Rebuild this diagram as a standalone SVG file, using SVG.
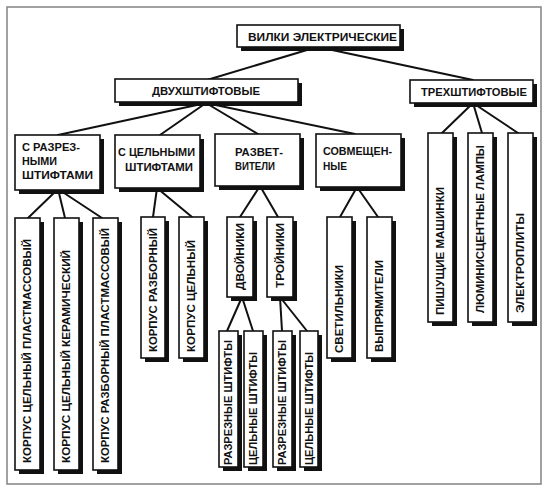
<svg xmlns="http://www.w3.org/2000/svg" width="550" height="489" viewBox="0 0 550 489">
<style>
.sh{fill:#111}
.bx{fill:#fff;stroke:#111;stroke-width:1.6}
.t{font-family:"Liberation Sans",Arial,sans-serif;font-weight:bold;font-size:11px;fill:#111}
.c{stroke:#111;stroke-width:2;fill:none;stroke-linecap:round}
</style>
<rect x="0" y="0" width="550" height="489" fill="#fff"/>
<rect x="7" y="7" width="534" height="477" fill="none" stroke="#8a8a8a" stroke-width="1.6"/>
<g id="connectors" class="c">
<path d="M317 47L207 80M318 47L473 80"/>
<path d="M206 103L58 135M206 103L160 135M206 103L258 134M206 103L355 134"/>
<path d="M473 103L442 133M473 103L482 133M473 103L518 133"/>
<path d="M58 189L28 218M58 189L65 218M58 189L102 218"/>
<path d="M157 188L153 217M157 188L192 217"/>
<path d="M260 186L240 217M260 186L278 217"/>
<path d="M357 187L340 217M357 187L378 217"/>
<path d="M242 297L227 331M242 297L253 331"/>
<path d="M280 297L282 331M280 297L307 331"/>
</g>
<g id="n-root"><rect class="sh" x="241" y="29" width="163" height="22"/><rect class="bx" x="237" y="25" width="163" height="22"/><text class="t" x="248" y="41" textLength="149" lengthAdjust="spacingAndGlyphs">ВИЛКИ ЭЛЕКТРИЧЕСКИЕ</text></g>
<g id="n-two"><rect class="sh" x="119" y="83" width="183" height="23"/><rect class="bx" x="115" y="79" width="183" height="23"/><text class="t" x="152" y="95" textLength="108" lengthAdjust="spacingAndGlyphs">ДВУХШТИФТОВЫЕ</text></g>
<g id="n-three"><rect class="sh" x="414" y="84" width="123" height="23"/><rect class="bx" x="410" y="80" width="123" height="23"/><text class="t" x="421" y="96" textLength="106" lengthAdjust="spacingAndGlyphs">ТРЕХШТИФТОВЫЕ</text></g>
<g id="n-razrez"><rect class="sh" x="19" y="139" width="85" height="55"/><rect class="bx" x="15" y="135" width="85" height="55"/><text class="t" x="22" y="151" textLength="58" lengthAdjust="spacingAndGlyphs">С РАЗРЕЗ-</text><text class="t" x="22" y="165" textLength="35" lengthAdjust="spacingAndGlyphs">НЫМИ</text><text class="t" x="22" y="179" textLength="71" lengthAdjust="spacingAndGlyphs">ШТИФТАМИ</text></g>
<g id="n-celn"><rect class="sh" x="119" y="139" width="85" height="53"/><rect class="bx" x="115" y="135" width="85" height="53"/><text class="t" x="118" y="156" textLength="77" lengthAdjust="spacingAndGlyphs">С ЦЕЛЬНЫМИ</text><text class="t" x="125" y="171" textLength="68" lengthAdjust="spacingAndGlyphs">ШТИФТАМИ</text></g>
<g id="n-razvet"><rect class="sh" x="219" y="138" width="85" height="52"/><rect class="bx" x="215" y="134" width="85" height="52"/><text class="t" x="235" y="156" textLength="48" lengthAdjust="spacingAndGlyphs">РАЗВЕТ-</text><text class="t" x="235" y="170" textLength="40" lengthAdjust="spacingAndGlyphs">ВИТЕЛИ</text></g>
<g id="n-sovm"><rect class="sh" x="320" y="138" width="85" height="53"/><rect class="bx" x="316" y="134" width="85" height="53"/><text class="t" x="323" y="155" textLength="69" lengthAdjust="spacingAndGlyphs">СОВМЕЩЕН-</text><text class="t" x="323" y="170" textLength="24" lengthAdjust="spacingAndGlyphs">НЫЕ</text></g>
<g id="n-l1"><rect class="sh" x="19" y="222" width="25" height="252"/><rect class="bx" x="15" y="218" width="25" height="252"/><text class="t" transform="translate(27.5 463) rotate(-90)" dy="0.36em" textLength="224" lengthAdjust="spacingAndGlyphs">КОРПУС ЦЕЛЬНЫЙ ПЛАСТМАССОВЫЙ</text></g>
<g id="n-l2"><rect class="sh" x="58" y="222" width="25" height="252"/><rect class="bx" x="54" y="218" width="25" height="252"/><text class="t" transform="translate(66.5 463) rotate(-90)" dy="0.36em" textLength="213" lengthAdjust="spacingAndGlyphs">КОРПУС ЦЕЛЬНЫЙ КЕРАМИЧЕСКИЙ</text></g>
<g id="n-l3"><rect class="sh" x="97" y="222" width="25" height="252"/><rect class="bx" x="93" y="218" width="25" height="252"/><text class="t" transform="translate(105.5 463) rotate(-90)" dy="0.36em" textLength="235" lengthAdjust="spacingAndGlyphs">КОРПУС РАЗБОРНЫЙ ПЛАСТМАССОВЫЙ</text></g>
<g id="n-l4"><rect class="sh" x="145" y="221" width="24" height="141"/><rect class="bx" x="141" y="217" width="24" height="141"/><text class="t" transform="translate(153 352) rotate(-90)" dy="0.36em" textLength="124" lengthAdjust="spacingAndGlyphs">КОРПУС РАЗБОРНЫЙ</text></g>
<g id="n-l5"><rect class="sh" x="183" y="221" width="25" height="141"/><rect class="bx" x="179" y="217" width="25" height="141"/><text class="t" transform="translate(191.5 352) rotate(-90)" dy="0.36em" textLength="112" lengthAdjust="spacingAndGlyphs">КОРПУС ЦЕЛЬНЫЙ</text></g>
<g id="n-dvoin"><rect class="sh" x="231" y="221" width="26" height="80"/><rect class="bx" x="227" y="217" width="26" height="80"/><text class="t" transform="translate(240 290) rotate(-90)" dy="0.36em" textLength="67" lengthAdjust="spacingAndGlyphs">ДВОЙНИКИ</text></g>
<g id="n-troin"><rect class="sh" x="271" y="221" width="26" height="80"/><rect class="bx" x="267" y="217" width="26" height="80"/><text class="t" transform="translate(280 288) rotate(-90)" dy="0.36em" textLength="65" lengthAdjust="spacingAndGlyphs">ТРОЙНИКИ</text></g>
<g id="n-d1"><rect class="sh" x="223" y="335" width="19" height="136"/><rect class="bx" x="219" y="331" width="19" height="136"/><text class="t" transform="translate(228.5 465) rotate(-90)" dy="0.36em" textLength="125" lengthAdjust="spacingAndGlyphs">РАЗРЕЗНЫЕ ШТИФТЫ</text></g>
<g id="n-d2"><rect class="sh" x="248" y="335" width="19" height="136"/><rect class="bx" x="244" y="331" width="19" height="136"/><text class="t" transform="translate(253.5 465) rotate(-90)" dy="0.36em" textLength="113" lengthAdjust="spacingAndGlyphs">ЦЕЛЬНЫЕ ШТИФТЫ</text></g>
<g id="n-t1"><rect class="sh" x="277" y="335" width="19" height="136"/><rect class="bx" x="273" y="331" width="19" height="136"/><text class="t" transform="translate(282.5 465) rotate(-90)" dy="0.36em" textLength="125" lengthAdjust="spacingAndGlyphs">РАЗРЕЗНЫЕ ШТИФТЫ</text></g>
<g id="n-t2"><rect class="sh" x="304" y="335" width="18" height="136"/><rect class="bx" x="300" y="331" width="18" height="136"/><text class="t" transform="translate(309 465) rotate(-90)" dy="0.36em" textLength="113" lengthAdjust="spacingAndGlyphs">ЦЕЛЬНЫЕ ШТИФТЫ</text></g>
<g id="n-svet"><rect class="sh" x="331" y="221" width="25" height="141"/><rect class="bx" x="327" y="217" width="25" height="141"/><text class="t" transform="translate(339.5 353) rotate(-90)" dy="0.36em" textLength="88" lengthAdjust="spacingAndGlyphs">СВЕТИЛЬНИКИ</text></g>
<g id="n-vypr"><rect class="sh" x="371" y="221" width="25" height="141"/><rect class="bx" x="367" y="217" width="25" height="141"/><text class="t" transform="translate(379.5 352) rotate(-90)" dy="0.36em" textLength="92" lengthAdjust="spacingAndGlyphs">ВЫПРЯМИТЕЛИ</text></g>
<g id="n-pish"><rect class="sh" x="432" y="137" width="25" height="189"/><rect class="bx" x="428" y="133" width="25" height="189"/><text class="t" transform="translate(440.5 315) rotate(-90)" dy="0.36em" textLength="128" lengthAdjust="spacingAndGlyphs">ПИШУЩИЕ МАШИНКИ</text></g>
<g id="n-lum"><rect class="sh" x="472" y="137" width="25" height="189"/><rect class="bx" x="468" y="133" width="25" height="189"/><text class="t" transform="translate(480.5 313) rotate(-90)" dy="0.36em" textLength="168" lengthAdjust="spacingAndGlyphs">ЛЮМИНИСЦЕНТНЫЕ ЛАМПЫ</text></g>
<g id="n-plit"><rect class="sh" x="512" y="137" width="25" height="189"/><rect class="bx" x="508" y="133" width="25" height="189"/><text class="t" transform="translate(520.5 313) rotate(-90)" dy="0.36em" textLength="100" lengthAdjust="spacingAndGlyphs">ЭЛЕКТРОПЛИТЫ</text></g>
</svg>
